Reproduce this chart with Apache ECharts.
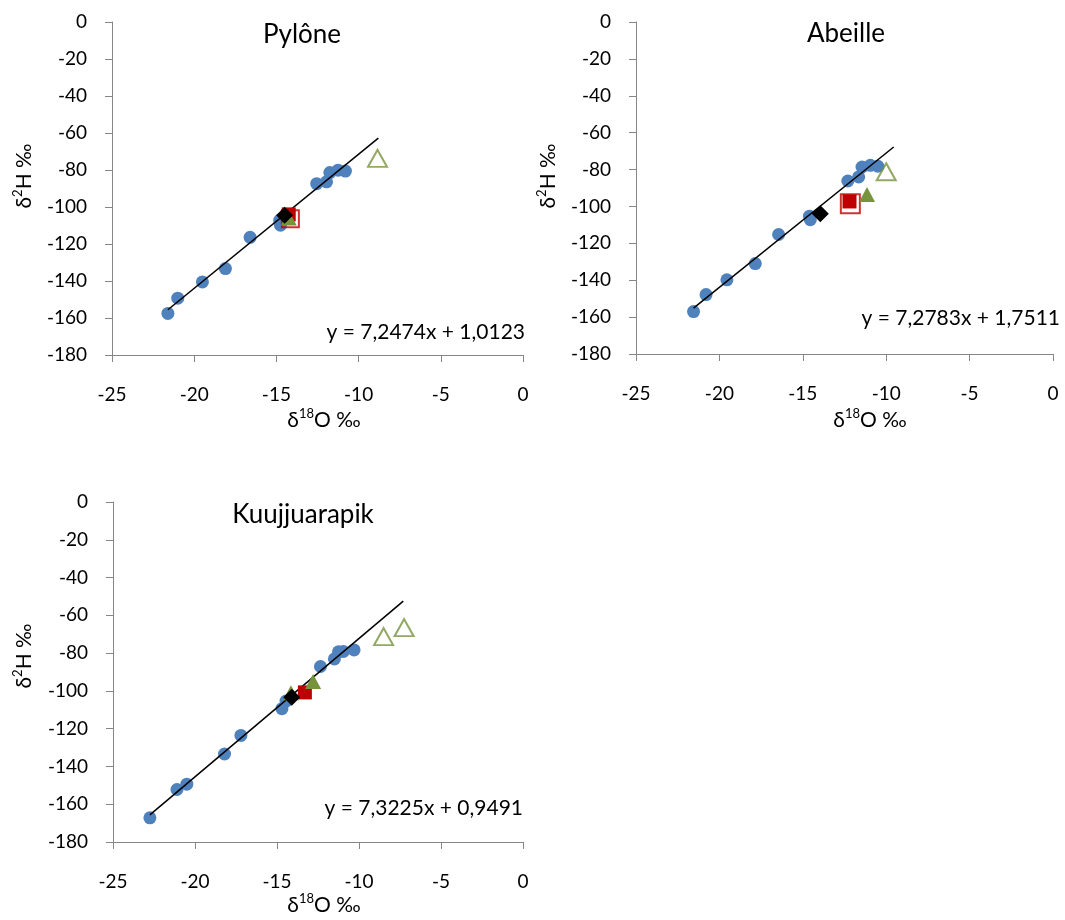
<!DOCTYPE html>
<html>
<head>
<meta charset="utf-8">
<script src="https://cdn.jsdelivr.net/npm/echarts@6/dist/echarts.min.js"></script>
<style>
  html, body { margin: 0; padding: 0; background: #ffffff; }
  #chart { width: 1065px; height: 920px; }
</style>
</head>
<body>
<div id="chart"></div>
<script>
// Stations shown, one panel each
const stationNames = ['Pylône', 'Abeille', 'Kuujjuarapik'];

// Precipitation samples (δ18O ‰, δ2H ‰) per station
const pyloneSamples = [
  [-21.6, -157.5], [-21.0, -149.3], [-19.5, -140.5], [-18.1, -133.3], [-16.6, -116.4],
  [-14.8, -107.2], [-14.75, -109.8], [-12.55, -87.4], [-11.95, -86.4], [-11.75, -81.4],
  [-11.25, -80.1], [-10.8, -80.6]
];
const abeilleSamples = [
  [-21.55, -157.0], [-20.8, -147.8], [-19.55, -139.8], [-17.85, -131.0], [-16.45, -115.2],
  [-14.6, -105.3], [-14.55, -107.2], [-12.3, -86.2], [-11.65, -84.0], [-11.45, -78.6],
  [-10.95, -77.7], [-10.5, -78.2]
];
const kuujjSamples = [
  [-22.75, -167.2], [-21.1, -152.2], [-20.5, -149.4], [-18.2, -133.4], [-17.2, -123.6],
  [-14.7, -109.4], [-14.45, -105.4], [-12.35, -87.1], [-11.5, -83.1], [-11.25, -79.3],
  [-10.95, -79.1], [-10.3, -78.3]
];

// Mean values (black diamond)
const pyloneMean = [[-14.5, -104.4]];
const abeilleMean = [[-13.95, -104.0]];
const kuujjMean = [[-14.1, -103.4]];

// Red squares: filled and open
const pyloneRedFilled = [[-14.25, -104.0]];
const pyloneRedOpen = [[-14.15, -106.3]];
const abeilleRedFilled = [[-12.2, -97.3]];
const abeilleRedOpen = [[-12.15, -98.6]];
const kuujjRedFilled = [[-13.3, -100.8]];
const kuujjRedOpen = [];

// Green triangles: filled and open
const pyloneGreenFilled = [[-14.25, -106.0]];
const pyloneGreenOpen = [[-8.85, -73.7]];
const abeilleGreenFilled = [[-11.15, -93.5]];
const abeilleGreenOpen = [[-10.0, -81.2]];
const kuujjGreenFilled = [[-14.15, -101.0], [-12.8, -95.0]];
const kuujjGreenOpen = [[-8.5, -71.3], [-7.25, -66.5]];

// Regression lines: slope, intercept and the δ18O span they cover
const fitSlopes = [7.2474, 7.2783, 7.3225];
const fitIntercepts = [1.0123, 1.7511, 0.9491];
const fitRanges = [[-21.6, -8.8], [-21.55, -9.55], [-22.75, -7.3]];

// Axis ranges and steps
const xRange = [-25, 0];
const xStep = 5;
const yRange = [-180, 0];
const yStep = 20;

const BLUE = '#4F81BD';
const RED = '#C00000';
const GREEN = '#77933C';
const AXIS = '#868686';
const FONT = 'Lato, "Open Sans", sans-serif';

const stations = [
  { samples: pyloneSamples, mean: pyloneMean, redF: pyloneRedFilled, redO: pyloneRedOpen,
    greenF: pyloneGreenFilled, greenO: pyloneGreenOpen, redOSize: 17 },
  { samples: abeilleSamples, mean: abeilleMean, redF: abeilleRedFilled, redO: abeilleRedOpen,
    greenF: abeilleGreenFilled, greenO: abeilleGreenOpen, redOSize: 19 },
  { samples: kuujjSamples, mean: kuujjMean, redF: kuujjRedFilled, redO: kuujjRedOpen,
    greenF: kuujjGreenFilled, greenO: kuujjGreenOpen, redOSize: 17 }
];

// Plot areas of the three panels
const grids = [
  { left: 112, top: 22, width: 411, height: 333 },
  { left: 636, top: 22, width: 417, height: 332 },
  { left: 113, top: 502, width: 410, height: 340 }
];

function fmt(v) { return v.toFixed(4).replace('.', ','); }

const xAxes = grids.map((g, i) => ({
  type: 'value', gridIndex: i, min: xRange[0], max: xRange[1], interval: xStep,
  axisLine: { onZero: false, lineStyle: { color: AXIS, width: 1 } },
  axisTick: { length: 7, lineStyle: { color: AXIS } },
  axisLabel: { color: '#000', fontFamily: FONT, fontSize: 19, margin: 30 },
  splitLine: { show: false }
}));
const yAxes = grids.map((g, i) => ({
  type: 'value', gridIndex: i, min: yRange[0], max: yRange[1], interval: yStep,
  axisLine: { show: true, onZero: false, lineStyle: { color: AXIS, width: 1 } },
  axisTick: { show: true, length: 7, lineStyle: { color: AXIS } },
  axisLabel: { color: '#000', fontFamily: FONT, fontSize: 19, margin: 25 },
  splitLine: { show: false }
}));

const series = [];
stations.forEach((s, i) => {
  const base = { type: 'scatter', xAxisIndex: i, yAxisIndex: i, silent: true, animation: false };
  series.push(Object.assign({}, base, {
    data: s.samples, symbol: 'circle', symbolSize: 13, z: 2,
    itemStyle: { color: BLUE, opacity: 1 }
  }));
  const r = fitRanges[i];
  series.push({
    type: 'line', xAxisIndex: i, yAxisIndex: i, silent: true, animation: false, z: 3,
    showSymbol: false, symbol: 'none',
    data: r.map(x => [x, fitSlopes[i] * x + fitIntercepts[i]]),
    lineStyle: { color: '#000', width: 1.5 }
  });
  series.push(Object.assign({}, base, {
    data: s.redO, symbol: 'rect', symbolSize: s.redOSize, z: 4,
    itemStyle: { color: 'rgba(255,255,255,0)', borderColor: RED, borderWidth: 2 }
  }));
  series.push(Object.assign({}, base, {
    data: s.redF, symbol: 'rect', symbolSize: 14, z: 5,
    itemStyle: { color: RED, opacity: 1 }
  }));
  series.push(Object.assign({}, base, {
    data: s.greenF, symbol: 'triangle', symbolSize: [16, 15], z: 6,
    itemStyle: { color: GREEN, opacity: 1 }
  }));
  series.push(Object.assign({}, base, {
    data: s.greenO, symbol: 'triangle', symbolSize: [19, 17], z: 6,
    itemStyle: { color: 'rgba(255,255,255,0)', borderColor: GREEN, borderWidth: 2 }
  }));
  series.push(Object.assign({}, base, {
    data: s.mean, symbol: 'diamond', symbolSize: 17, z: 7,
    itemStyle: { color: '#000', opacity: 1 }
  }));
});

// Titles, axis names and regression equations
const titlePos = [[302, 35], [846, 34], [303, 515]];
const xNamePos = [[324, 420], [870, 420], [324, 905]];
const yNamePos = [[24, 176], [548, 176], [24, 656]];
const eqRight = [[525, 332], [1060, 318], [523, 808]];

const supRich = {
  sup: { fontSize: 13, fontFamily: FONT, verticalAlign: 'top', lineHeight: 14, padding: [0, 0, 0, 0] },
  base: { fontSize: 21, fontFamily: FONT, lineHeight: 26 }
};

const graphic = [];
stationNames.forEach((name, i) => {
  graphic.push({
    type: 'text', x: titlePos[i][0], y: titlePos[i][1], silent: true,
    style: { text: name, fill: '#000', font: '26px ' + FONT, align: 'center', verticalAlign: 'middle' }
  });
  graphic.push({
    type: 'text', x: xNamePos[i][0], y: xNamePos[i][1], silent: true,
    style: { text: '{base|δ}{sup|18}{base|O ‰}', rich: supRich, fill: '#000',
             align: 'center', verticalAlign: 'middle' }
  });
  graphic.push({
    type: 'text', x: yNamePos[i][0], y: yNamePos[i][1], rotation: Math.PI / 2, silent: true,
    style: { text: '{base|δ}{sup|2}{base|H ‰}', rich: supRich, fill: '#000',
             align: 'center', verticalAlign: 'middle' }
  });
  graphic.push({
    type: 'text', x: eqRight[i][0], y: eqRight[i][1], silent: true,
    style: { text: 'y = ' + fmt(fitSlopes[i]) + 'x + ' + fmt(fitIntercepts[i]), fill: '#000',
             font: '21px ' + FONT, align: 'right', verticalAlign: 'middle' }
  });
});

const chart = echarts.init(document.getElementById('chart'), null, { renderer: 'canvas' });
chart.setOption({
  animation: false,
  backgroundColor: '#ffffff',
  grid: grids.map(g => Object.assign({ containLabel: false }, g)),
  xAxis: xAxes,
  yAxis: yAxes,
  series: series,
  graphic: graphic
});
</script>
</body>
</html>
